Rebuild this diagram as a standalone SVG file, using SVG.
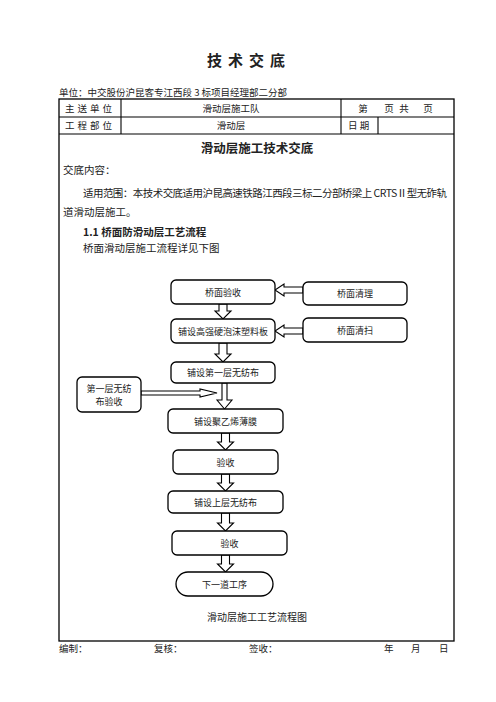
<svg xmlns="http://www.w3.org/2000/svg" width="496" height="702" viewBox="0 0 496 702">
<style>
text{font-family:"Noto Sans CJK SC","Liberation Serif",serif;fill:#222}
.t{font-size:9.5px}
.c{text-anchor:middle}
.b{font-size:10.5px}
.f{font-size:9px;text-anchor:middle;dominant-baseline:central}
.box{fill:#fff;stroke:#000;stroke-width:1.3}
.arr{fill:#fff;stroke:#000;stroke-width:1.1;stroke-linejoin:miter}
.ln{stroke:#000;stroke-width:1.1;fill:none}
</style>
<rect width="496" height="702" fill="#fff"/>
<g id="header">
<text x="249" y="66" class="c" style="font-size:15px;font-weight:bold;letter-spacing:6px">技术交底</text>
<text x="59" y="96" class="t">单位：中交股份沪昆客专江西段 3 标项目经理部二分部</text>
</g>
<g id="table">
<rect x="59" y="99" width="395" height="542" class="ln" style="stroke-width:1.3"/>
<line x1="59" y1="117" x2="454" y2="117" class="ln"/>
<line x1="59" y1="134" x2="454" y2="134" class="ln"/>
<line x1="121" y1="99" x2="121" y2="134" class="ln"/>
<line x1="341" y1="99" x2="341" y2="134" class="ln"/>
<line x1="378" y1="117" x2="378" y2="134" class="ln"/>
<text x="90" y="111.5" class="t c" style="letter-spacing:3px">主送单位</text>
<text x="231" y="111.5" class="t c">滑动层施工队</text>
<text x="363" y="111.5" class="t c">第</text>
<text x="389" y="111.5" class="t c">页</text>
<text x="404" y="111.5" class="t c">共</text>
<text x="428" y="111.5" class="t c">页</text>
<text x="90" y="128.5" class="t c" style="letter-spacing:3px">工程部位</text>
<text x="231" y="128.5" class="t c">滑动层</text>
<text x="348" y="128.5" class="t">日 期</text>
</g>
<g id="content">
<text x="257" y="152.5" class="c" style="font-size:12.5px;font-weight:bold">滑动层施工技术交底</text>
<text x="63" y="174" class="b">交底内容：</text>
<text x="83" y="197" class="b" textLength="364" lengthAdjust="spacing">适用范围：本技术交底适用沪昆高速铁路江西段三标二分部桥梁上 CRTSⅡ型无砟轨</text>
<text x="63" y="216" class="b">道滑动层施工。</text>
<text x="83" y="236" class="b" style="font-weight:bold">1.1 桥面防滑动层工艺流程</text>
<text x="83" y="252" class="b">桥面滑动层施工流程详见下图</text>
<text x="257" y="621" class="c" style="font-size:10px">滑动层施工工艺流程图</text>
</g>
<g id="footer">
<text x="59" y="652" class="t">编制：</text>
<text x="154" y="652" class="t">复核：</text>
<text x="249" y="652" class="t">签收：</text>
<text x="384" y="652" class="t">年</text>
<text x="411" y="652" class="t">月</text>
<text x="439" y="652" class="t">日</text>
</g>
<g id="connectors">
<path class="arr" d="M303,287 L284,287 L284,284 L275,290 L284,296 L284,293 L303,293 Z"/>
<path class="arr" d="M303,328 L284,328 L284,325 L275,331 L284,337 L284,334 L303,334 Z"/>
<path class="arr" d="M141,391 L200,391 L200,389 L217,393 L200,397 L200,395 L141,395 Z"/>
<path class="arr" d="M219,304 L227,304 L227,311 L231,311 L223,319 L215,311 L219,311 Z"/>
<path class="arr" d="M219,343 L227,343 L227,354 L231,354 L223,362 L215,354 L219,354 Z"/>
<path class="arr" d="M222,383 L227,383 L227,400 L232,400 L224.5,409 L217,400 L222,400 Z"/>
<path class="arr" d="M221.5,433 L229.5,433 L229.5,442 L233.5,442 L225.5,450 L217.5,442 L221.5,442 Z"/>
<path class="arr" d="M221.5,474 L229.5,474 L229.5,483 L233.5,483 L225.5,491 L217.5,483 L221.5,483 Z"/>
<path class="arr" d="M221.5,513 L229.5,513 L229.5,523 L233.5,523 L225.5,531 L217.5,523 L221.5,523 Z"/>
<path class="arr" d="M221.5,555 L229.5,555 L229.5,564 L233.5,564 L225.5,572 L217.5,564 L221.5,564 Z"/>
</g>
<g id="n1"><rect x="171" y="280" width="104" height="24" rx="5" class="box"/><text x="223" y="292" class="f">桥面验收</text></g>
<g id="n2"><rect x="303" y="282" width="104" height="23" rx="5" class="box"/><text x="355" y="293.5" class="f">桥面清理</text></g>
<g id="n3"><rect x="171" y="319" width="104" height="24" rx="5" class="box"/><text x="223" y="331" class="f">铺设高强硬泡沫塑料板</text></g>
<g id="n4"><rect x="303" y="318" width="104" height="24" rx="5" class="box"/><text x="355" y="330" class="f">桥面清扫</text></g>
<g id="n5"><rect x="171" y="362" width="104" height="21" rx="5" class="box"/><text x="223" y="372.5" class="f">铺设第一层无纺布</text></g>
<g id="n6"><rect x="77" y="377" width="64" height="35" rx="5" class="box"/><text x="109" y="388" class="f">第一层无纺</text><text x="109" y="401" class="f">布验收</text></g>
<g id="n7"><rect x="168" y="409" width="115" height="24" rx="5" class="box"/><text x="225.5" y="421" class="f">铺设聚乙烯薄膜</text></g>
<g id="n8"><rect x="173" y="450" width="105" height="24" rx="5" class="box"/><text x="225.5" y="462" class="f">验收</text></g>
<g id="n9"><rect x="168" y="491" width="115" height="22" rx="5" class="box"/><text x="225.5" y="502" class="f">铺设上层无纺布</text></g>
<g id="n10"><rect x="172" y="531" width="115" height="24" rx="5" class="box"/><text x="229.5" y="543" class="f">验收</text></g>
<g id="n11"><rect x="176" y="572" width="97" height="24" rx="12" class="box"/><text x="224.5" y="584" class="f">下一道工序</text></g>
</svg>
